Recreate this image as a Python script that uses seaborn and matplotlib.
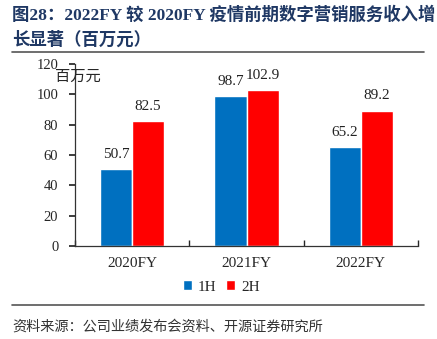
import matplotlib
matplotlib.use("Agg")
import matplotlib.pyplot as plt
import seaborn as sns
import pandas as pd

years = ["2020FY", "2021FY", "2022FY"]
h1 = [50.7, 98.7, 65.2]
h2 = [82.5, 102.9, 89.2]
halves = ["1H", "2H"]
colors = ["#0070C0", "#FF0000"]

df = pd.DataFrame({
    "year": years * 2,
    "half": [halves[0]] * 3 + [halves[1]] * 3,
    "value": h1 + h2,
})

sns.set_theme(style="white")
serif_cjk = ["Liberation Serif", "Noto Sans CJK SC"]
plt.rcParams["font.family"] = serif_cjk

fig = plt.figure(figsize=(4.37, 3.39), dpi=100)
ax = fig.add_axes([0.1716, 0.274, 0.785, 0.537])

sns.barplot(data=df, x="year", y="value", hue="half", palette=colors,
            width=0.56, saturation=1, ax=ax, legend=True)

for cont in ax.containers:
    ax.bar_label(cont, fmt="%.1f", padding=6, fontsize=11, color="#222222")

ax.set_ylim(0, 120)
ax.set_yticks(range(0, 121, 20))
ax.set_xlim(-0.5, 2.5)
ax.set_xlabel("")
ax.set_ylabel("")
ax.tick_params(axis="y", labelsize=10.5, length=4, direction="out", left=True, pad=8)
ax.tick_params(axis="x", labelsize=11, length=0, pad=8)
ax.set_xticks([0, 1, 2])
ax.set_xticks([-0.5, 0.5, 1.5, 2.5], minor=True)
ax.tick_params(axis="x", which="minor", length=4, bottom=True, direction="in")
for s in ["top", "right"]:
    ax.spines[s].set_visible(False)
for s in ["left", "bottom"]:
    ax.spines[s].set_color("#333333")
    ax.spines[s].set_linewidth(0.9)

ax.text(-0.058, 0.978, "百万元", transform=ax.transAxes, fontsize=11,
        family=["Noto Sans CJK SC"], va="top", ha="left")

leg = ax.legend(loc="center", bbox_to_anchor=(0.426, -0.225), ncol=2,
                frameon=False, fontsize=11, handlelength=0.6, handleheight=0.6,
                handletextpad=0.4, columnspacing=0.6, borderaxespad=0)

title_color = "#1F3864"
fig.text(0.027, 0.955, "图28：2022FY 较 2020FY 疫情前期数字营销服务收入增",
         fontsize=12.5, fontweight="bold", color=title_color, va="center",
         family=serif_cjk)
fig.text(0.027, 0.882, "长显著（百万元）", fontsize=12.5, fontweight="bold",
         color=title_color, va="center", family=serif_cjk)

fig.add_artist(plt.Line2D([0.027, 0.97], [0.847, 0.847], color="#555555", lw=1.2,
                          transform=fig.transFigure))
fig.add_artist(plt.Line2D([0.027, 0.97], [0.1, 0.1], color="#555555", lw=1.2,
                          transform=fig.transFigure))
fig.text(0.027, 0.038, "资料来源：公司业绩发布会资料、开源证券研究所", fontsize=10.2,
         color="#333333", va="center", family=["Noto Sans CJK SC"])

fig.savefig("out.png", dpi=100)
